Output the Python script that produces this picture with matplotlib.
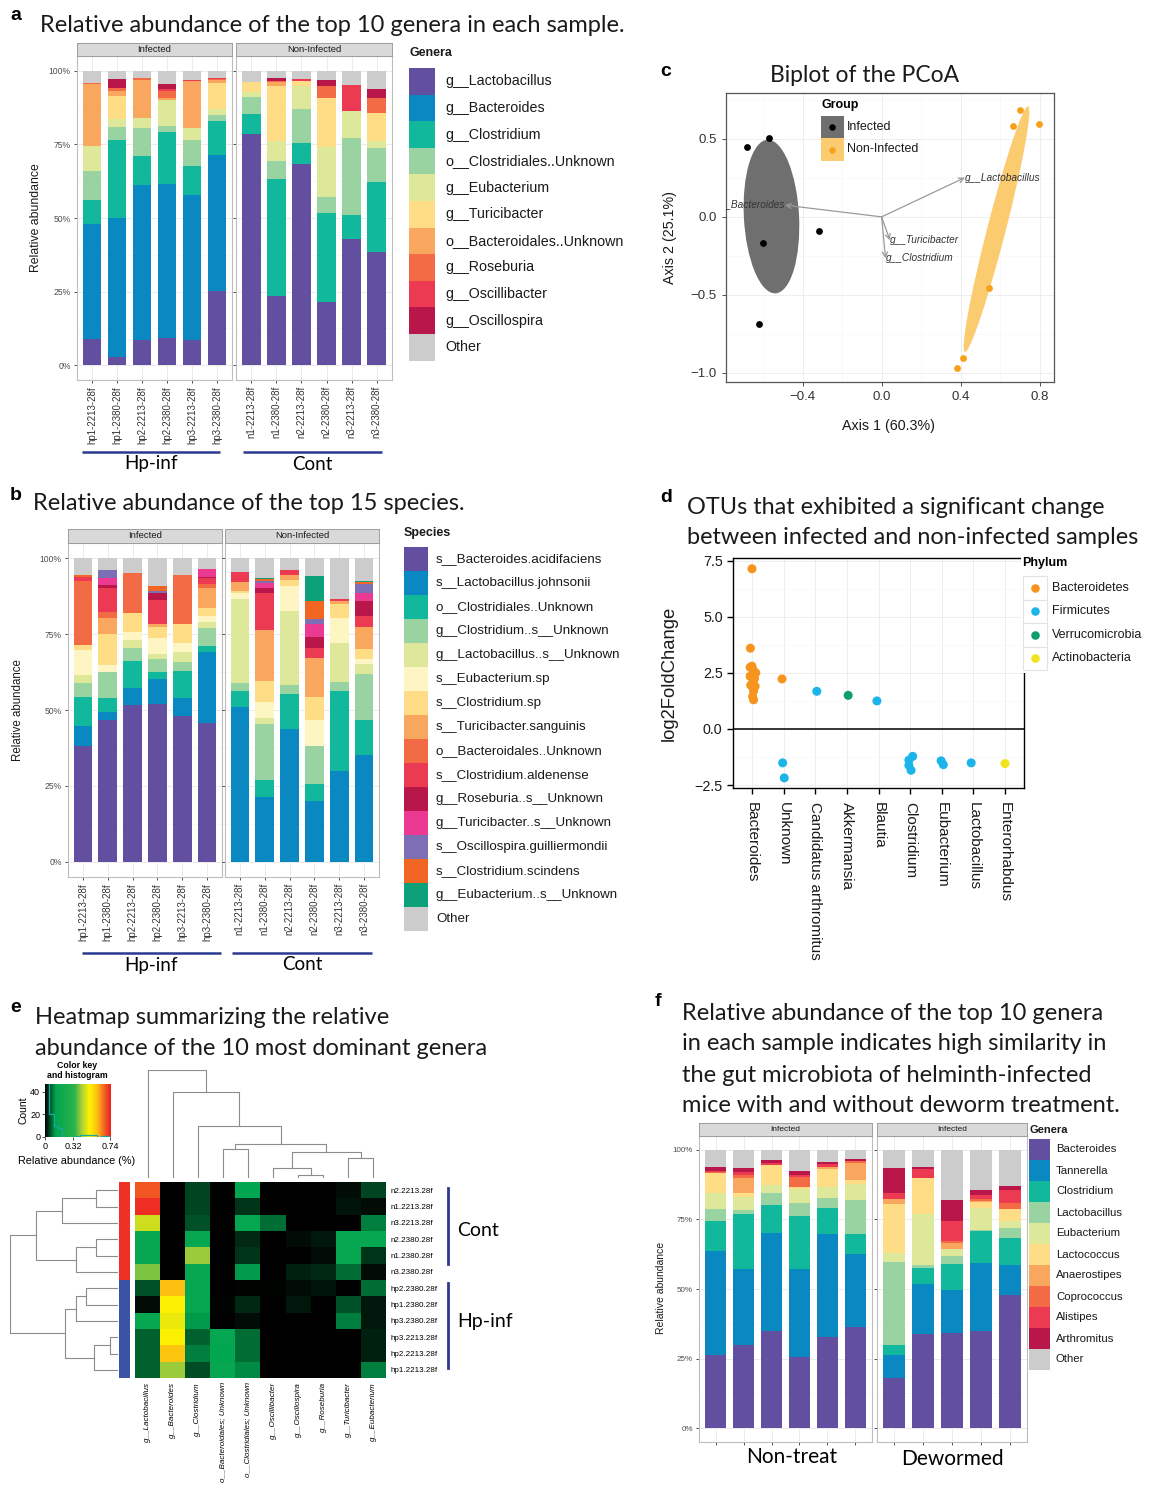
import numpy as np
import matplotlib
matplotlib.use("Agg")
import matplotlib.pyplot as plt
from matplotlib.patches import Rectangle, Ellipse
from matplotlib.colors import LinearSegmentedColormap, ListedColormap

W, H = 1153, 1486
plt.rcParams['font.family'] = ['Liberation Sans', 'DejaVu Sans']
TITLE_FONT = ['Lato', 'DejaVu Sans']

# ---------------- panel a data (percent per genus, 12 samples) ----------------
a_samples = ['hp1-2213-28f', 'hp1-2380-28f', 'hp2-2213-28f', 'hp2-2380-28f', 'hp3-2213-28f', 'hp3-2380-28f',
             'n1-2213-28f', 'n1-2380-28f', 'n2-2213-28f', 'n2-2380-28f', 'n3-2213-28f', 'n3-2380-28f']
a_genera = ['g__Lactobacillus', 'g__Bacteroides', 'g__Clostridium', 'o__Clostridiales..Unknown',
            'g__Eubacterium', 'g__Turicibacter', 'o__Bacteroidales..Unknown', 'g__Roseburia',
            'g__Oscillibacter', 'g__Oscillospira', 'Other']
a_lactobacillus = [9, 2.8, 8.5, 9.4, 8.6, 25.3, 78.6, 23.4, 68.2, 21.4, 43, 38.5]
a_bacteroides = [39, 47.2, 52.7, 52.3, 49.3, 46, 0, 0, 0, 0, 0, 0]
a_clostridium = [8, 26.5, 10, 17.5, 9.6, 11.7, 6.8, 39.8, 7.2, 30.2, 8, 23.6]
a_clostridiales_unk = [10, 4.5, 9.5, 1.9, 9.1, 1.8, 5.6, 6.1, 11.6, 5.4, 26.1, 11.7]
a_eubacterium = [8.6, 2.6, 3.4, 8.9, 3.9, 2.1, 1.9, 6.9, 7.9, 17.1, 9.1, 2.2]
a_turicibacter = [0, 7.7, 0, 0, 0, 9.1, 3.4, 18.7, 1.7, 16.8, 0, 9.6]
a_bacteroidales_unk = [20.9, 1.9, 12.9, 0.6, 15.9, 1.0, 0, 1.4, 0, 0, 0, 0]
a_roseburia = [0.3, 0.8, 0.4, 2.6, 0.2, 0.2, 0, 0.3, 0, 4.0, 0, 5.0]
a_oscillibacter = [0.2, 0.3, 0, 0.6, 0.2, 0.5, 0, 0, 0.7, 0, 9.0, 0]
a_oscillospira = [0, 2.9, 0, 1.7, 0, 0, 0, 1.0, 0, 2.0, 0, 3.3]
a_layers = [a_lactobacillus, a_bacteroides, a_clostridium, a_clostridiales_unk, a_eubacterium,
            a_turicibacter, a_bacteroidales_unk, a_roseburia, a_oscillibacter, a_oscillospira]

# ---------------- panel b data (percent per species) ----------------
b_species = ['s__Bacteroides.acidifaciens', 's__Lactobacillus.johnsonii', 'o__Clostridiales..Unknown',
             'g__Clostridium..s__Unknown', 'g__Lactobacillus..s__Unknown', 's__Eubacterium.sp',
             's__Clostridium.sp', 's__Turicibacter.sanguinis', 'o__Bacteroidales..Unknown',
             's__Clostridium.aldenense', 'g__Roseburia..s__Unknown', 'g__Turicibacter..s__Unknown',
             's__Oscillospira.guilliermondii', 's__Clostridium.scindens', 'g__Eubacterium..s__Unknown', 'Other']
b_bac_acidifaciens = [38.2, 46.7, 51.6, 52, 48.1, 45.8, 0, 0, 0, 0, 0, 0]
b_lac_johnsonii = [6.4, 2.8, 5.5, 8.2, 5.7, 23.4, 50.9, 21.2, 43.7, 20, 30, 35.2]
b_clostridiales_unk = [9.8, 4.6, 9.1, 2.2, 9.2, 2, 5.5, 5.9, 11.5, 5.5, 26.3, 11.5]
b_clostridium_unk = [4.4, 8.3, 4.1, 4.4, 2.9, 5.9, 2.5, 18.2, 3, 12.7, 2.8, 15.2]
b_lactobacillus_unk = [2.7, 0, 2.8, 1.6, 3.1, 1.8, 27.7, 2.2, 24.5, 0, 12.9, 3.2]
b_eubacterium_sp = [8.3, 2.4, 2.5, 5.4, 3, 1.9, 1.9, 5.2, 8.3, 8.5, 8.2, 1.6]
b_clostridium_sp = [1.6, 10.1, 6.3, 3.7, 6.4, 2.9, 0.8, 7, 1.9, 7.7, 4.7, 3.3]
b_turicibacter_sang = [0, 5.5, 0, 0.7, 0, 6.6, 3, 16.7, 1.4, 12.6, 1, 7.5]
b_bacteroidales_unk = [21.1, 1.8, 13.2, 0, 16.1, 1.1, 0, 0, 0, 0, 0, 0]
b_clostridium_ald = [1.2, 8.1, 0, 8.1, 0, 2, 3, 12.1, 1.9, 3.3, 0.7, 3.6]
b_roseburia_unk = [0, 0.9, 0, 2.2, 0, 0.4, 0, 1.6, 0, 3.9, 0, 4.9]
b_turicibacter_unk = [0, 2.2, 0, 0, 0, 2.6, 0, 1.7, 0, 4, 0, 2.5]
b_oscillospira_g = [0, 2.8, 0, 0.7, 0, 0, 0, 0.7, 0, 1.8, 0, 2.9]
b_clostridium_sci = [0.8, 0, 0, 1.5, 0, 0, 0, 0.7, 0, 5.9, 0, 0.7]
b_eubacterium_unk = [0, 0, 0, 0, 0, 0, 0, 0.4, 0, 8.1, 0, 0.4]
b_layers = [b_bac_acidifaciens, b_lac_johnsonii, b_clostridiales_unk, b_clostridium_unk,
            b_lactobacillus_unk, b_eubacterium_sp, b_clostridium_sp, b_turicibacter_sang,
            b_bacteroidales_unk, b_clostridium_ald, b_roseburia_unk, b_turicibacter_unk,
            b_oscillospira_g, b_clostridium_sci, b_eubacterium_unk]

# ---------------- panel c data (PCoA scores and loadings) ----------------
c_inf_x = [-0.684, -0.570, -0.599, -0.317, -0.619]
c_inf_y = [0.449, 0.509, -0.171, -0.090, -0.688]
c_non_x = [0.702, 0.663, 0.795, 0.542, 0.410, 0.380]
c_non_y = [0.684, 0.585, 0.596, -0.459, -0.908, -0.972]
c_arrow_names = ['g__Lactobacillus', 'g__Bacteroides', 'g__Turicibacter', 'g__Clostridium']
c_arrow_x = [0.422, -0.489, 0.042, 0.020]
c_arrow_y = [0.252, 0.075, -0.150, -0.267]

# ---------------- panel d data (significant OTUs) ----------------
d_genera = ['Bacteroides', 'Unknown', 'Candidatus arthromitus', 'Akkermansia', 'Blautia',
            'Clostridium', 'Eubacterium', 'Lactobacillus', 'Enterorhabdus']
d_phyla = ['Bacteroidetes', 'Firmicutes', 'Verrucomicrobia', 'Actinobacteria']
d_cat = [0] * 14 + [1, 1, 1, 2, 3, 4, 5, 5, 5, 5, 6, 6, 7, 8]
d_jitter = [0, -0.05, 0, -0.06, 0.05, 0.12, -0.06, 0.08, 0.03, -0.04, 0.1, 0.05, 0.02, 0.05,
            -0.05, -0.03, 0.02, 0.05, 0.04, -0.05, 0.08, -0.04, -0.04, 0.03, -0.02, 0.05, -0.07, 0.0]
d_lfc = [7.14, 3.6, 2.8, 2.75, 2.6, 2.5, 2.35, 2.25, 2.1, 1.95, 1.9, 1.7, 1.45, 1.3,
         2.23, -1.51, -2.18, 1.68, 1.50, 1.25, -1.22, -1.39, -1.62, -1.84, -1.42, -1.59, -1.51, -1.54]
d_phylum = [0] * 14 + [0, 1, 1, 1, 2, 1, 1, 1, 1, 1, 1, 1, 1, 3]

# ---------------- panel e data (heatmap of relative abundance) ----------------
e_rows = ['n2.2213.28f', 'n1.2213.28f', 'n3.2213.28f', 'n2.2380.28f', 'n1.2380.28f', 'n3.2380.28f',
          'hp2.2380.28f', 'hp1.2380.28f', 'hp3.2380.28f', 'hp3.2213.28f', 'hp2.2213.28f', 'hp1.2213.28f']
e_cols = ['g__Lactobacillus', 'g__Bacteroides', 'g__Clostridium', 'o__Bacteroidales; Unknown',
          'o__Clostridiales; Unknown', 'g__Oscillibacter', 'g__Oscillospira', 'g__Roseburia',
          'g__Turicibacter', 'g__Eubacterium']
e_values = [
    [0.68, 0, 0.05, 0, 0.12, 0, 0, 0, 0.01, 0.05],
    [0.72, 0, 0.05, 0, 0.04, 0, 0, 0, 0.015, 0.01],
    [0.45, 0, 0.06, 0, 0.14, 0.08, 0, 0, 0, 0.09],
    [0.15, 0, 0.15, 0, 0.03, 0, 0.01, 0.02, 0.15, 0.15],
    [0.15, 0, 0.40, 0, 0.04, 0, 0, 0.01, 0.14, 0.04],
    [0.38, 0, 0.15, 0, 0.11, 0, 0.025, 0.03, 0.08, 0.01],
    [0.06, 0.58, 0.14, 0, 0.005, 0.005, 0.01, 0.015, 0, 0.08],
    [0.01, 0.50, 0.14, 0.005, 0.03, 0, 0.02, 0, 0.06, 0.02],
    [0.15, 0.48, 0.11, 0, 0.01, 0, 0, 0, 0.09, 0.02],
    [0.07, 0.50, 0.07, 0.14, 0.08, 0, 0, 0, 0, 0.025],
    [0.07, 0.57, 0.09, 0.13, 0.08, 0, 0, 0, 0, 0.025],
    [0.07, 0.40, 0.055, 0.15, 0.10, 0, 0, 0, 0, 0.09],
]
e_group = [0] * 6 + [1] * 6
# dendrogram merges: (child a, child b, height)
e_col_merges = [(6, 7, 10), (5, 10, 30), (8, 9, 60), (11, 12, 77), (3, 4, 87),
                (14, 13, 103), (2, 15, 157), (1, 16, 258), (0, 17, 323)]
e_row_merges = [(0, 1, 67), (12, 2, 170), (3, 4, 67), (14, 5, 127), (13, 15, 247), (6, 7, 97),
                (17, 8, 127), (9, 10, 25), (19, 11, 73), (18, 20, 160), (16, 21, 325)]

# ---------------- panel f data ----------------
f_genera = ['Bacteroides', 'Tannerella', 'Clostridium', 'Lactobacillus', 'Eubacterium', 'Lactococcus',
            'Anaerostipes', 'Coprococcus', 'Alistipes', 'Arthromitus', 'Other']
f_bacteroides = [26.3, 29.9, 35, 25.4, 32.7, 36.3, 18, 33.7, 34.1, 34.8, 47.7]
f_tannerella = [37.4, 27.3, 35.3, 31.8, 37.1, 26.2, 8.3, 18.2, 15.4, 24.5, 11.1]
f_clostridium = [10.6, 19.8, 9.9, 19.1, 9.2, 7.3, 3.4, 5.6, 9.5, 11.5, 9.5]
f_lactobacillus = [4.4, 1.4, 4.2, 4.5, 3.6, 12.2, 29.9, 1.2, 3, 0.5, 3.6]
f_eubacterium = [5.7, 4.5, 3, 5.1, 3.9, 5.7, 3.3, 18.1, 2.4, 7.7, 2.4]
f_lactococcus = [7.2, 1.7, 7, 0.6, 6.7, 1.5, 17.7, 13, 0, 2.2, 4.3]
f_anaerostipes = [0, 5.2, 0, 0, 0.5, 6.2, 1.8, 0, 2.2, 0.6, 0]
f_coprococcus = [0.3, 1.2, 0, 3.7, 0, 0.6, 0, 0, 0.8, 0.6, 2.4]
f_alistipes = [0.6, 0.9, 0.8, 0.8, 1.2, 0, 2.2, 3.4, 7.2, 1.4, 4.7]
f_arthromitus = [1.5, 1.5, 1.0, 1.5, 0.7, 0.6, 8.8, 0.8, 7.4, 1.8, 1.5]
f_layers = [f_bacteroides, f_tannerella, f_clostridium, f_lactobacillus, f_eubacterium,
            f_lactococcus, f_anaerostipes, f_coprococcus, f_alistipes, f_arthromitus]

# colours
spectral = ['#634FA0', '#0A88C2', '#12B89C', '#99D3A2', '#DDE89A', '#FEDD86',
            '#F9A75E', '#F26B45', '#EC3A52', '#B9174A', '#CCCCCC']
species_cols = ['#634FA0', '#0A88C2', '#12B89C', '#99D3A2', '#DDE89A', '#FDF6C3', '#FEDD86',
                '#F9A75E', '#F26B45', '#EC3A52', '#B9174A', '#EC3A93', '#7D6FB5', '#F26522',
                '#0EA078', '#CCCCCC']
phylum_cols = ['#F7941D', '#1CB5EA', '#0E9E6E', '#F2E41C']
NAVY = '#2B3990'

fig = plt.figure(figsize=(W / 100, H / 100), dpi=100)

ov = fig.add_axes([0, 0, 1, 1], zorder=50)
ov.set_xlim(0, W)
ov.set_ylim(H, 0)
ov.axis('off')
ov.patch.set_alpha(0)


def add_ax(x0, y0, x1, y1):
    return fig.add_axes([x0 / W, 1 - y1 / H, (x1 - x0) / W, (y1 - y0) / H])


def bar_facet(box, strip_text, layers, colors, tick_labels=None, show_y=True, strip_h=13,
              tick_fs=7, ytick_fs=6.2, strip_fs=6.8):
    x0, y0, x1, y1 = box
    ax = add_ax(x0, y0, x1, y1)
    n = len(layers[0])
    xs = np.arange(1, n + 1)
    bottom = np.zeros(n)
    for vals, c in zip(layers, colors[:-1]):
        vals = np.asarray(vals, float)
        ax.bar(xs, vals, bottom=bottom, width=0.75, color=c, linewidth=0, zorder=2)
        bottom += vals
    ax.bar(xs, 100 - bottom, bottom=bottom, width=0.75, color=colors[-1], linewidth=0, zorder=2)
    ax.set_xlim(0.4, n + 0.6)
    ax.set_ylim(-5, 105)
    ax.set_yticks([0, 25, 50, 75, 100])
    ax.set_yticks([12.5, 37.5, 62.5, 87.5], minor=True)
    ax.set_xticks(xs)
    ax.grid(True, which='major', color='#EBEBEB', lw=0.7)
    ax.grid(True, which='minor', axis='y', color='#F4F4F4', lw=0.4)
    ax.set_axisbelow(True)
    for s in ax.spines.values():
        s.set_color('#BDBDBD')
        s.set_linewidth(0.8)
    ax.tick_params(length=2.5, width=0.6, color='#333333', labelsize=ytick_fs, labelcolor='#4D4D4D', pad=2)
    ax.tick_params(which='minor', length=0)
    if show_y:
        ax.set_yticklabels(['0%', '25%', '50%', '75%', '100%'])
    else:
        ax.set_yticklabels([])
    if tick_labels:
        ax.set_xticklabels(tick_labels, rotation=90, fontsize=tick_fs, color='#333333')
    else:
        ax.set_xticklabels([])
    st = add_ax(x0, y0 - strip_h, x1, y0)
    st.set_facecolor('#D9D9D9')
    st.set_xticks([])
    st.set_yticks([])
    for s in st.spines.values():
        s.set_color('#9E9E9E')
        s.set_linewidth(0.7)
    st.text(0.5, 0.5, strip_text, ha='center', va='center', fontsize=strip_fs, color='#1A1A1A',
            transform=st.transAxes)
    return ax


def key_legend(x, y_title, y0, title, labels, colors, kw, kh, fs, title_fs, gap):
    ov.text(x, y_title, title, fontsize=title_fs, weight='bold', va='center', ha='left', color='#1A1A1A')
    for i, (lab, c) in enumerate(zip(labels, colors)):
        ov.add_patch(Rectangle((x, y0 + i * kh), kw, kh, color=c, lw=0))
        ov.text(x + kw + gap, y0 + (i + 0.5) * kh, lab, fontsize=fs, va='center', ha='left', color='#1A1A1A')


def title_lines(letter, lx, ly, lines, tx, ty, step, fs=17):
    ov.text(lx, ly, letter, fontsize=14, weight='bold', va='center', ha='left')
    for i, t in enumerate(lines):
        ov.text(tx, ty + i * step, t, fontsize=fs, va='center', ha='left', family=TITLE_FONT, color='#1A1A1A')


def group_bar(x0, x1, y, label, ty, fs=13.5):
    ov.plot([x0, x1], [y, y], color=NAVY, lw=1.8, solid_capstyle='butt')
    ov.text((x0 + x1) / 2, ty, label, fontsize=fs, ha='center', va='center', family=TITLE_FONT)


# ================= panel a =================
title_lines('a', 10, 16, ['Relative abundance of the top 10 genera in each sample.'], 40, 25, 0)
a_arr = np.array(a_layers)
bar_facet((77, 56, 232, 380), 'Infected', a_arr[:, :6], spectral, a_samples[:6])
bar_facet((236, 56, 392, 380), 'Non-Infected', a_arr[:, 6:], spectral, a_samples[6:], show_y=False)
ov.text(36, 218, 'Relative abundance', rotation=90, fontsize=8.8, ha='center', va='center', color='#1A1A1A')
key_legend(409, 53, 68, 'Genera', a_genera, spectral, 26, 26.6, 10.3, 9, 10)
group_bar(82, 220, 452, 'Hp-inf', 464)
group_bar(243, 382, 452, 'Cont', 464)

# ================= panel b =================
title_lines('b', 10, 496, ['Relative abundance of the top 15 species.'], 33, 503, 0)
b_arr = np.array(b_layers)
bar_facet((68, 543, 222, 877), 'Infected', b_arr[:, :6], species_cols, a_samples[:6], strip_h=14)
bar_facet((225, 543, 379, 877), 'Non-Infected', b_arr[:, 6:], species_cols, a_samples[6:],
          show_y=False, strip_h=14)
ov.text(18, 710, 'Relative abundance', rotation=90, fontsize=8.3, ha='center', va='center', color='#1A1A1A')
key_legend(404, 533, 547, 'Species', b_species, species_cols, 24, 24, 9.6, 9, 8)
group_bar(82, 221, 953, 'Hp-inf', 965)
group_bar(232, 372, 953, 'Cont', 965)

# ================= panel c =================
title_lines('c', 660, 72, ['Biplot of the PCoA'], 770, 75, 0, fs=16.5)
ax_c = add_ax(726, 93, 1054, 382)
ix, iy = np.array(c_inf_x), np.array(c_inf_y)
nx, ny = np.array(c_non_x), np.array(c_non_y)


def cov_ellipse(x, y, color):
    cov = np.cov(x, y)
    vals, vecs = np.linalg.eigh(cov)
    ang = np.degrees(np.arctan2(vecs[1, 1], vecs[0, 1]))
    return Ellipse((x.mean(), y.mean()), 2 * np.sqrt(vals[1]), 2 * np.sqrt(vals[0]), angle=ang,
                   facecolor=color, edgecolor='none', zorder=1)


ax_c.add_patch(cov_ellipse(ix, iy, '#6F6F6F'))
ax_c.add_patch(cov_ellipse(nx, ny, '#FBCB70'))
ax_c.scatter(ix, iy, s=24, color='black', zorder=3, linewidths=0)
ax_c.scatter(nx, ny, s=24, color='#F7A01A', zorder=3, linewidths=0)
for name, ex, ey in zip(c_arrow_names, c_arrow_x, c_arrow_y):
    ax_c.annotate('', xy=(ex, ey), xytext=(0, 0),
                  arrowprops=dict(arrowstyle='->', color='#9A9A9A', lw=0.9, shrinkA=0, shrinkB=0,
                                  mutation_scale=9), zorder=2)
    ha = 'right' if ex < 0 else 'left'
    ax_c.text(ex, ey, name, ha=ha, va='center', fontsize=7.3, style='italic', color='#333333',
              clip_on=True, zorder=4)
ax_c.set_xlim(-0.788, 0.873)
ax_c.set_ylim(-1.06, 0.795)
ax_c.set_xticks([-0.4, 0.0, 0.4, 0.8])
ax_c.set_xticklabels(['\u22120.4', '0.0', '0.4', '0.8'])
ax_c.set_yticks([-1.0, -0.5, 0.0, 0.5])
ax_c.set_yticklabels(['\u22121.0', '\u22120.5', '0.0', '0.5'])
ax_c.set_xticks([-0.6, -0.2, 0.2, 0.6], minor=True)
ax_c.set_yticks([-0.75, -0.25, 0.25, 0.75], minor=True)
ax_c.grid(True, which='major', color='#EBEBEB', lw=0.6)
ax_c.grid(True, which='minor', color='#F5F5F5', lw=0.4)
ax_c.set_axisbelow(True)
ax_c.tick_params(labelsize=9.5, length=3, width=0.6, color='#333333', labelcolor='#333333')
ax_c.tick_params(which='minor', length=0)
for s in ax_c.spines.values():
    s.set_color('#555555')
    s.set_linewidth(0.9)
ov.text(889, 426, 'Axis 1 (60.3%)', fontsize=10.3, ha='center', va='center', color='#1A1A1A')
ov.text(670, 238, 'Axis 2 (25.1%)', fontsize=10.3, rotation=90, ha='center', va='center', color='#1A1A1A')
ov.text(821, 105, 'Group', fontsize=9, weight='bold', va='center', ha='left')
for i, (lab, bg, dot) in enumerate([('Infected', '#6F6F6F', 'black'), ('Non-Infected', '#FBCB70', '#F7A01A')]):
    yk = 115.5 + i * 22.7
    ov.add_patch(Rectangle((821, yk), 22.5, 22.7, color=bg, lw=0))
    ov.scatter([832], [yk + 11.3], s=22, color=dot, linewidths=0)
    ov.text(847, yk + 11.3, lab, fontsize=9, va='center', ha='left', color='#1A1A1A')

# ================= panel d =================
title_lines('d', 660, 497, ['OTUs that exhibited a significant change',
                            'between infected and non-infected samples'], 687, 507, 30.5, fs=16.9)
ax_d = add_ax(733, 558, 1024, 788)
dx = np.array(d_cat) + np.array(d_jitter)
dcols = [phylum_cols[p] for p in d_phylum]
ax_d.scatter(dx, d_lfc, s=42, c=dcols, linewidths=0, zorder=3)
ax_d.axhline(0, color='black', lw=1.1, zorder=2)
ax_d.set_xlim(-0.6, 8.6)
ax_d.set_ylim(-2.63, 7.62)
ax_d.set_yticks([-2.5, 0, 2.5, 5.0, 7.5])
ax_d.set_yticklabels(['\u22122.5', '0.0', '2.5', '5.0', '7.5'])
ax_d.set_yticks([-1.25, 1.25, 3.75, 6.25], minor=True)
ax_d.set_xticks(range(len(d_genera)))
ax_d.set_xticklabels(d_genera, rotation=-90, fontsize=11, ha='center', va='top')
ax_d.grid(True, which='major', color='#EBEBEB', lw=0.6)
ax_d.grid(True, which='minor', axis='y', color='#F5F5F5', lw=0.4)
ax_d.set_axisbelow(True)
ax_d.tick_params(labelsize=10.3, length=4, width=1, color='black', labelcolor='#1A1A1A')
ax_d.tick_params(axis='x', labelsize=11, pad=6)
ax_d.tick_params(which='minor', length=0)
for s in ax_d.spines.values():
    s.set_color('black')
    s.set_linewidth(1.0)
ov.text(669, 673, 'log2FoldChange', fontsize=13.3, rotation=90, ha='center', va='center', color='#1A1A1A')
ov.add_patch(Rectangle((1021, 553), 132, 120, facecolor='white', edgecolor='none'))
ov.text(1022, 563, 'Phylum', fontsize=9, weight='bold', va='center', ha='left')
for i, (lab, c) in enumerate(zip(d_phyla, phylum_cols)):
    yk = 576 + i * 23.5
    ov.add_patch(Rectangle((1023, yk), 23.5, 23.5, facecolor='white', edgecolor='#E3E3E3', lw=0.8))
    ov.scatter([1034.7], [yk + 11.7], s=38, color=c, linewidths=0)
    ov.text(1052, yk + 11.7, lab, fontsize=9, va='center', ha='left', color='#1A1A1A')

# ================= panel e =================
title_lines('e', 10, 1007, ['Heatmap summarizing the relative', 'abundance of the 10 most dominant genera'],
            35, 1018, 30.5)
hm = np.array(e_values)
cmap_e = LinearSegmentedColormap.from_list('hm', [(0.0, '#000000'), (0.16, '#00A651'), (0.45, '#2DB34A'),
                                                   (0.55, '#A6CE39'), (0.68, '#FFF200'), (0.8, '#FDB913'),
                                                   (0.9, '#F26522'), (1.0, '#ED1C24')])
ax_hm = add_ax(135, 1182, 386, 1378)
ax_hm.imshow(hm, cmap=cmap_e, vmin=0, vmax=0.74, aspect='auto', interpolation='nearest')
ax_hm.set_xticks(range(len(e_cols)))
ax_hm.set_xticklabels(e_cols, rotation=90, fontsize=5.8, style='italic', va='top')
ax_hm.yaxis.tick_right()
ax_hm.set_yticks(range(len(e_rows)))
ax_hm.set_yticklabels(e_rows, fontsize=5.8)
ax_hm.tick_params(length=0, pad=3)
for s in ax_hm.spines.values():
    s.set_visible(False)

ax_side = add_ax(119, 1182, 130, 1378)
ax_side.imshow(np.array(e_group)[:, None], cmap=ListedColormap(['#EE3124', '#3A53A4']),
               aspect='auto', interpolation='nearest')
ax_side.axis('off')


def dendro(ax, merges, n, orient):
    pos = {i: float(i) for i in range(n)}
    hgt = {i: 0.0 for i in range(n)}
    for k, (a, b, h) in enumerate(merges):
        xs = [pos[a], pos[a], pos[b], pos[b]]
        ys = [hgt[a], h, h, hgt[b]]
        if orient == 'top':
            ax.plot(xs, ys, color='#8C8C8C', lw=0.8)
        else:
            ax.plot(ys, xs, color='#8C8C8C', lw=0.8)
        pos[n + k] = (pos[a] + pos[b]) / 2
        hgt[n + k] = h
    ax.axis('off')


ax_cd = add_ax(135, 1070, 386, 1178)
dendro(ax_cd, e_col_merges, len(e_cols), 'top')
ax_cd.set_xlim(-0.5, len(e_cols) - 0.5)
ax_cd.set_ylim(0, 323)
ax_rd = add_ax(10, 1182, 118, 1378)
dendro(ax_rd, e_row_merges, len(e_rows), 'left')
ax_rd.set_ylim(len(e_rows) - 0.5, -0.5)
ax_rd.set_xlim(325, 0)

ax_key = add_ax(45, 1084, 110, 1137)
grad = np.linspace(0, 0.74, 256)[None, :]
ax_key.imshow(grad, cmap=cmap_e, vmin=0, vmax=0.74, extent=[0, 0.74, 0, 47], aspect='auto', origin='lower')
counts, edges = np.histogram(hm.ravel(), bins=np.linspace(0, 0.74, 16))
ax_key.plot(edges, np.append(counts, counts[-1]), drawstyle='steps-post', color='#17A89E', lw=0.9)
ax_key.set_xlim(0, 0.74)
ax_key.set_ylim(0, 47)
ax_key.set_xticks([0, 0.32, 0.74])
ax_key.set_xticklabels(['0', '0.32', '0.74'])
ax_key.set_yticks([0, 20, 40])
ax_key.tick_params(labelsize=6.5, length=2, width=0.5, pad=1.5)
for s in ax_key.spines.values():
    s.set_visible(False)
ax_key.set_ylabel('Count', fontsize=7.5, labelpad=1)
ov.text(77, 1066, 'Color key', fontsize=6.3, weight='bold', ha='center', va='center')
ov.text(77, 1076, 'and histogram', fontsize=6.3, weight='bold', ha='center', va='center')
ov.text(77, 1161, 'Relative abundance (%)', fontsize=7.8, ha='center', va='center')
ov.plot([448, 448], [1188, 1264], color=NAVY, lw=2)
ov.plot([448, 448], [1283, 1368], color=NAVY, lw=2)
ov.text(457, 1230, 'Cont', fontsize=14, family=TITLE_FONT, va='center', ha='left')
ov.text(457, 1322, 'Hp-inf', fontsize=14, family=TITLE_FONT, va='center', ha='left')

# ================= panel f =================
title_lines('f', 655, 1002, ['Relative abundance of the top 10 genera',
                             'in each sample indicates high similarity in',
                             'the gut microbiota of helminth-infected',
                             'mice with and without deworm treatment.'], 682, 1013, 31)
f_arr = np.array(f_layers)
bar_facet((699, 1136, 872, 1442), 'Infected', f_arr[:, :6], spectral, ytick_fs=5.8, strip_fs=6)
bar_facet((877, 1136, 1027, 1442), 'Infected', f_arr[:, 6:], spectral, show_y=False, strip_fs=6)
ov.text(661, 1288, 'Relative abundance', rotation=90, fontsize=7.5, ha='center', va='center', color='#1A1A1A')
key_legend(1029, 1130, 1139, 'Genera', f_genera, spectral, 21, 21, 8.2, 8, 6)
ov.text(792, 1457, 'Non-treat', fontsize=15, family=TITLE_FONT, ha='center', va='center')
ov.text(952, 1459, 'Dewormed', fontsize=15, family=TITLE_FONT, ha='center', va='center')

fig.savefig('out.png', dpi=100)
